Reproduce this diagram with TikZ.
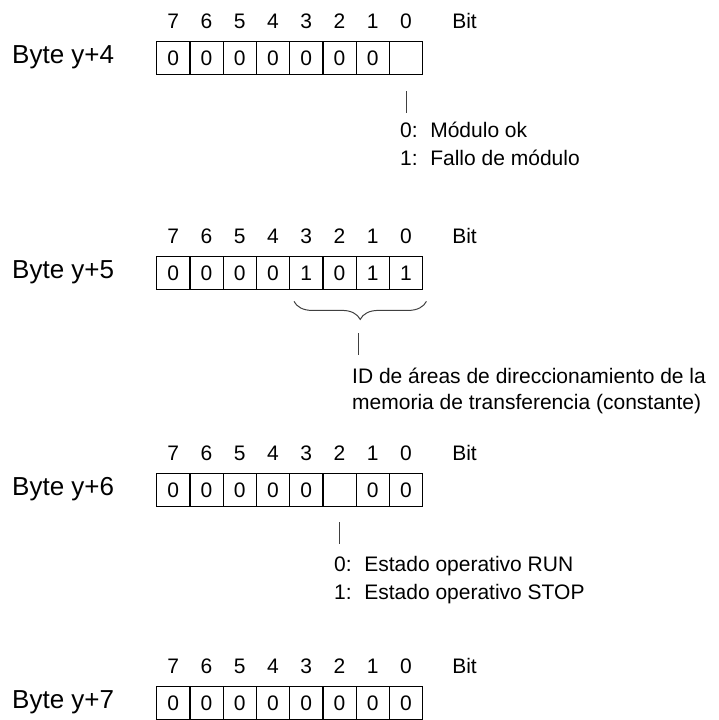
\documentclass[tikz,border=0pt]{standalone}
\usepackage{fontspec}
\setmainfont{Liberation Sans}
\usetikzlibrary{positioning,decorations.pathreplacing}
\tikzset{
  bitcell/.style={draw=black,line width=1.4pt,minimum width=33.25pt,
    minimum height=33pt,inner sep=0pt,anchor=north west,
    font=\fontsize{21}{25}\selectfont},
  bitnum/.style={font=\fontsize{21}{25}\selectfont,inner sep=0pt},
  bytelbl/.style={font=\fontsize{26}{30}\selectfont,inner sep=0pt,
    anchor=base west},
  desc/.style={font=\fontsize{21}{25}\selectfont,inner sep=0pt,
    anchor=base west},
  tick/.style={line width=1pt,black!75},
  bitbrace/.style={decorate,decoration={brace,mirror,amplitude=18pt},
    line width=1pt,black!75},
}
\newcommand{\gap}{\hspace{0.6em}}

\begin{document}
\begin{tikzpicture}[x=1pt,y=-1pt]
  \useasboundingbox (0,0) rectangle (719,720);
  % Byte y+4
  \node[bytelbl] (b4) at (12,63) {Byte y+4};
  \foreach \v [count=\i from 0] in {0,0,0,0,0,0,0,{}} {
    \pgfmathtruncatemacro\b{7-\i}
    \node[bitcell] (r4c\b) at ({156+\i*33.25},41) {\v};
    \node[bitnum,above=12.5pt of r4c\b] (n4c\b) {\b};
  }
  \node[bitnum,right=40pt of n4c0.base east,anchor=base west] (bit4) {Bit};
  \coordinate (t4a) at ([yshift=-16pt]r4c0.south);
  \coordinate (t4b) at ([yshift=-38pt]r4c0.south);
  \draw[tick] (t4a) -- (t4b);
  \node[desc] (d4a) at (400,137) {0:\gap Módulo ok};
  \node[desc] (d4b) at (400,165) {1:\gap Fallo de módulo};

  % Byte y+5
  \node[bytelbl] (b5) at (12,278) {Byte y+5};
  \foreach \v [count=\i from 0] in {0,0,0,0,1,0,1,1} {
    \pgfmathtruncatemacro\b{7-\i}
    \node[bitcell] (r5c\b) at ({156+\i*33.25},256) {\v};
    \node[bitnum,above=12.5pt of r5c\b] (n5c\b) {\b};
  }
  \node[bitnum,right=40pt of n5c0.base east,anchor=base west] (bit5) {Bit};
  \coordinate (br5a) at ([xshift=5pt,yshift=-11pt]r5c3.south west);
  \coordinate (br5b) at ([xshift=3pt,yshift=-11pt]r5c0.south east);
  \draw[bitbrace] (br5a) -- (br5b);
  \coordinate (t5a) at (358,333);
  \coordinate (t5b) at (358,355);
  \draw[tick] (t5a) -- (t5b);
  \node[desc] (d5a) at (352,383) {ID de áreas de direccionamiento de la};
  \node[desc] (d5b) at (352,409) {memoria de transferencia (constante)};

  % Byte y+6
  \node[bytelbl] (b6) at (12,495) {Byte y+6};
  \foreach \v [count=\i from 0] in {0,0,0,0,0,{},0,0} {
    \pgfmathtruncatemacro\b{7-\i}
    \node[bitcell] (r6c\b) at ({156+\i*33.25},473) {\v};
    \node[bitnum,above=12.5pt of r6c\b] (n6c\b) {\b};
  }
  \node[bitnum,right=40pt of n6c0.base east,anchor=base west] (bit6) {Bit};
  \coordinate (t6a) at ([yshift=-15pt]r6c2.south);
  \coordinate (t6b) at ([yshift=-37pt]r6c2.south);
  \draw[tick] (t6a) -- (t6b);
  \node[desc] (d6a) at (334,571) {0:\gap Estado operativo RUN};
  \node[desc] (d6b) at (334,599) {1:\gap Estado operativo STOP};

  % Byte y+7
  \node[bytelbl] (b7) at (12,708) {Byte y+7};
  \foreach \v [count=\i from 0] in {0,0,0,0,0,0,0,0} {
    \pgfmathtruncatemacro\b{7-\i}
    \node[bitcell] (r7c\b) at ({156+\i*33.25},686) {\v};
    \node[bitnum,above=12.5pt of r7c\b] (n7c\b) {\b};
  }
  \node[bitnum,right=40pt of n7c0.base east,anchor=base west] (bit7) {Bit};
\end{tikzpicture}
\end{document}
